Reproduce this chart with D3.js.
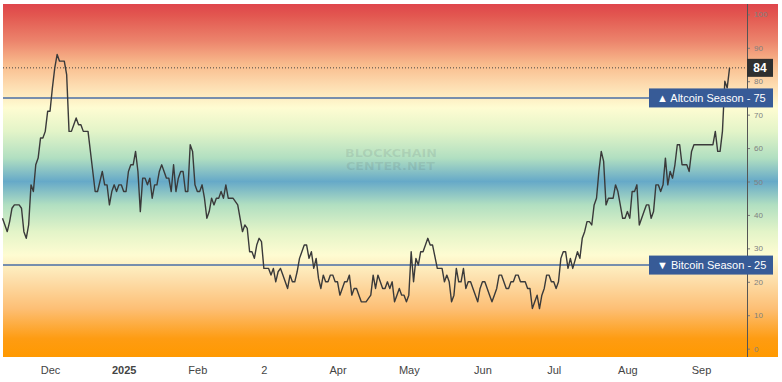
<!DOCTYPE html>
<html>
<head>
<meta charset="utf-8">
<script src="https://cdn.jsdelivr.net/npm/d3@7"></script>
<style>
  html, body { margin: 0; padding: 0; background: #fff; }
  svg { display: block; }
</style>
</head>
<body>
<svg id="chart" width="782" height="382"></svg>
<script>
// ---------- data ----------
const startDate = "2024-11-11"; // day 0 of the series
const dayIndex = [0,1,2,3,4,5,7,8,9,10,11,12,13,14,15,16,17,18,19,20,21,22,23,24,26,27,28,29,30,31,32,33,34,36,39,40,42,43,44,45,46,47,48,49,50,51,52,53,54,55,56,57,58,59,60,61,62,63,64,65,66,67,68,69,70,71,72,73,74,75,76,77,78,79,80,81,82,83,84,85,86,87,88,89,90,91,92,93,94,95,97,99,100,101,102,103,104,105,106,107,108,109,110,112,113,114,115,116,117,118,119,120,121,122,123,124,125,127,128,129,130,131,132,133,134,135,136,137,138,139,140,141,142,143,144,145,146,147,148,149,150,151,153,155,156,157,158,159,160,161,162,163,164,165,166,167,168,169,170,171,172,173,174,175,176,177,179,180,181,183,185,186,187,188,189,190,191,192,193,194,195,196,197,198,200,201,202,203,205,206,207,208,209,210,212,213,214,215,216,217,218,220,221,222,223,224,225,226,227,228,229,230,231,232,233,234,235,236,237,238,239,240,242,243,244,245,246,247,248,249,250,251,252,253,254,255,257,258,259,260,261,262,263,264,265,266,267,268,269,270,271,272,273,274,275,276,277,278,279,280,281,282,283,284,285,286,288,289,290,291,299,300,301,302,303,304,305,306];
const indexValues = [39,37,35,38,42,43,43,42,35,33,37,49,47,55,57,63,63,65,71,71,78,84,88,86,86,82,65,65,67,69,67,67,65,65,47,47,53,49,49,43,47,49,47,49,49,47,47,53,55,55,59,53,41,51,51,49,51,45,49,49,53,55,53,51,51,47,55,47,51,53,53,47,47,61,59,49,47,47,49,45,39,41,45,43,45,45,47,45,49,45,45,43,39,35,37,36,29,29,27,31,33,32,24,24,22,24,20,23,24,22,20,18,22,20,20,23,27,31,31,27,29,24,27,21,18,22,20,20,22,22,20,20,16,18,20,20,22,16,18,18,16,14,14,16,22,18,22,20,18,18,20,18,20,14,16,18,16,16,14,16,29,20,27,25,29,29,33,31,31,24,24,20,22,20,14,16,24,20,20,24,18,20,20,18,14,18,20,20,16,14,16,18,22,22,18,18,20,20,22,22,20,20,18,18,12,14,16,12,16,18,22,22,20,20,18,20,27,29,29,24,27,24,29,27,33,35,38,38,37,43,45,53,59,56,43,45,45,49,47,43,39,39,41,39,47,47,49,37,39,41,43,43,39,41,49,49,47,49,57,49,53,51,55,61,61,55,55,53,59,61,61,65,59,59,65,80,78,84];

const monthTicks = ["2024-12-01","2025-01-01","2025-02-01","2025-03-01","2025-04-01","2025-05-01","2025-06-01","2025-07-01","2025-08-01","2025-09-01"];
const monthLabels = ["Dec","2025","Feb","2","Apr","May","Jun","Jul","Aug","Sep"];
const yTickValues = [0,10,20,30,40,50,60,70,80,90,100];
const altcoinLevel = 75;
const bitcoinLevel = 25;
const altcoinLabel = "\u25B2 Altcoin Season - 75";
const bitcoinLabel = "\u25BC Bitcoin Season - 25";
const watermark = ["BLOCKCHAIN", "CENTER.NET"];
// gradient colour stops by index value
const gradValues = [104, 100, 92, 85, 79, 72, 65, 57, 50, 43, 35, 28, 21, 12, 3, -3];
const gradColors = ["#df454c","#e2554f","#ec846c","#f9bc8d","#fddbaf","#fefcd2","#e3f4c8","#b1dfc1","#66a9c8","#b1dfc1","#e3f4c8","#fefcd2","#fde0ad","#fdbf75","#fe9c12","#ff9900"];

// ---------- layout ----------
const svg = d3.select("#chart");
const plotLeft = 3, plotRight = 747, bgRight = 778, plotTop = 4, plotBottom = 357;

const parse = d3.utcParse("%Y-%m-%d");
const t0 = parse(startDate);
const data = dayIndex.map((d, i) => ({ date: d3.utcDay.offset(t0, d), value: indexValues[i] }));

const x = d3.scaleUtc()
  .domain([t0, d3.utcDay.offset(t0, 313)])
  .range([2.5, 746.2]);
const y = d3.scaleLinear()
  .domain([-2.5, 103.1])
  .range([plotBottom, plotTop]);

// gradient
const defs = svg.append("defs");
const grad = defs.append("linearGradient")
  .attr("id", "bg")
  .attr("gradientUnits", "userSpaceOnUse")
  .attr("x1", 0).attr("x2", 0)
  .attr("y1", plotTop).attr("y2", plotBottom);
gradValues.forEach((v, i) => {
  const off = (y(v) - plotTop) / (plotBottom - plotTop);
  grad.append("stop")
    .attr("offset", Math.max(0, Math.min(1, off)))
    .attr("stop-color", gradColors[i]);
});

svg.append("rect")
  .attr("x", plotLeft).attr("y", plotTop)
  .attr("width", bgRight - plotLeft).attr("height", plotBottom - plotTop)
  .attr("fill", "url(#bg)");

// watermark
const wm = svg.append("g").attr("fill", "rgba(70,80,90,0.13)")
  .attr("font-family", "'DejaVu Sans', sans-serif").attr("font-weight", "bold")
  .attr("font-size", 11);
wm.append("text").attr("x", 345).attr("y", 156.5).attr("textLength", 92).attr("lengthAdjust", "spacingAndGlyphs").text(watermark[0]);
wm.append("text").attr("x", 346).attr("y", 169.5).attr("textLength", 89).attr("lengthAdjust", "spacingAndGlyphs").text(watermark[1]);

// last value dotted line
const last = data[data.length - 1];
svg.append("line")
  .attr("x1", plotLeft).attr("x2", plotRight)
  .attr("y1", y(last.value)).attr("y2", y(last.value))
  .attr("stroke", "#444").attr("stroke-width", 1)
  .attr("stroke-dasharray", "1,2");

// season lines
[altcoinLevel, bitcoinLevel].forEach(v => {
  svg.append("line")
    .attr("x1", plotLeft).attr("x2", 650)
    .attr("y1", y(v)).attr("y2", y(v))
    .attr("stroke", "#4a6ea6").attr("stroke-width", 1.6);
});

// index line
const line = d3.line().x(d => x(d.date)).y(d => y(d.value));
svg.append("path")
  .datum(data)
  .attr("d", line)
  .attr("fill", "none")
  .attr("stroke", "#3a3a3a")
  .attr("stroke-width", 1.4)
  .attr("stroke-linejoin", "round");

// right axis
const yAxis = d3.axisRight(y).tickValues(yTickValues).tickSize(3).tickPadding(4);
const ya = svg.append("g").attr("transform", `translate(${plotRight},0)`).call(yAxis);
ya.select(".domain").remove();
ya.selectAll(".tick line").attr("stroke", "#777");
ya.selectAll(".tick text").attr("fill", "#808080").attr("font-size", 8)
  .attr("font-family", "'Liberation Sans', Arial, sans-serif");
svg.append("line")
  .attr("x1", plotRight + 0.5).attr("x2", plotRight + 0.5)
  .attr("y1", plotTop).attr("y2", plotBottom)
  .attr("stroke", "#555").attr("stroke-width", 1);

// bottom axis
const xAxis = d3.axisBottom(x)
  .tickValues(monthTicks.map(parse))
  .tickSize(0).tickPadding(9)
  .tickFormat((d, i) => monthLabels[i]);
const xa = svg.append("g").attr("transform", `translate(0,${plotBottom})`).call(xAxis);
xa.select(".domain").remove();
xa.selectAll(".tick text")
  .attr("fill", "#444").attr("font-size", 11)
  .attr("font-family", "'Liberation Sans', Arial, sans-serif")
  .attr("font-weight", (d, i) => monthLabels[i] === "2025" ? "bold" : "normal");

// labels on the right
function tag(v, text) {
  const g = svg.append("g").attr("transform", `translate(649,${y(v)})`);
  g.append("rect").attr("x", 0).attr("y", -9.5).attr("width", 124).attr("height", 19)
    .attr("fill", "#375b97");
  g.append("text").attr("x", 8).attr("y", 0).attr("dy", "0.36em")
    .attr("fill", "#fff").attr("font-size", 11)
    .attr("font-family", "'Liberation Sans', Arial, sans-serif")
    .text(text);
}
tag(altcoinLevel, altcoinLabel);
tag(bitcoinLevel, bitcoinLabel);

// last value tag
const lg = svg.append("g").attr("transform", `translate(${plotRight},${y(last.value)})`);
lg.append("rect").attr("x", 0).attr("y", -9).attr("width", 26).attr("height", 18).attr("fill", "#2f2f2f");
lg.append("text").attr("x", 13).attr("y", 0).attr("dy", "0.36em").attr("text-anchor", "middle")
  .attr("fill", "#fff").attr("font-size", 12).attr("font-weight", "bold")
  .attr("font-family", "'Liberation Sans', Arial, sans-serif")
  .text(last.value);
</script>
</body>
</html>
